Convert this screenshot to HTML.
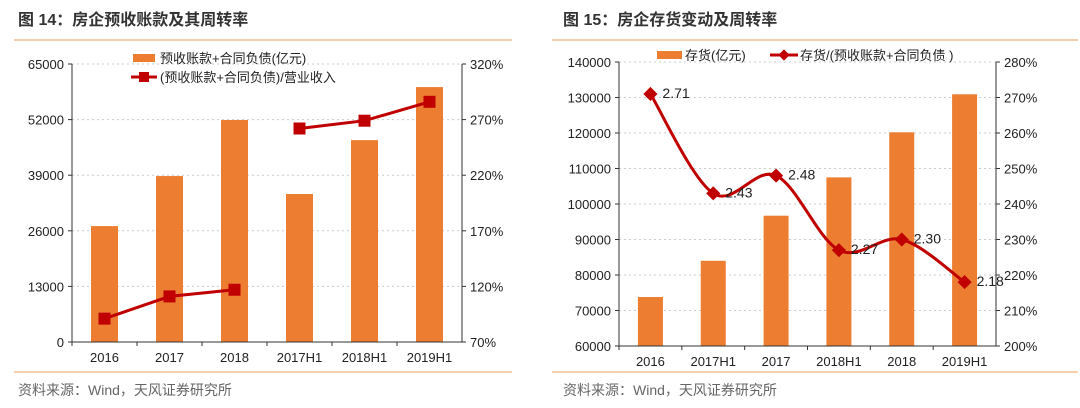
<!DOCTYPE html>
<html><head><meta charset="utf-8"><style>
body{margin:0;width:1080px;height:403px;background:#fff;overflow:hidden;font-family:"Liberation Sans","Noto Sans CJK SC",sans-serif}
svg text{font-family:"Liberation Sans","Noto Sans CJK SC",sans-serif}
</style></head><body>
<svg width="1080" height="403">
<g id="L"></g>
<g id="R"></g>
</svg>
<script>
const catsL=["2016","2017","2018","2017H1","2018H1","2019H1"];
const barsL=[27100,38800,51900,34600,47200,59600];
const lineL=[91,111,117,262,269,286];
const ticksL=[0,13000,26000,39000,52000,65000];
const ticksLR=[70,120,170,220,270,320];
const catsR=["2016","2017H1","2017","2018H1","2018","2019H1"];
const barsR=[73800,84000,96700,107500,120200,130900];
const lineR=[271,243,248,227,230,218];
const labelsR=["2.71","2.43","2.48","2.27","2.30","2.18"];
const ticksR=[60000,70000,80000,90000,100000,110000,120000,130000,140000];
const ticksRR=[200,210,220,230,240,250,260,270,280];
const NS="http://www.w3.org/2000/svg";
function mk(p,t,a,txt){const e=document.createElementNS(NS,t);for(const k in a)e.setAttribute(k,a[k]);if(txt!=null)e.textContent=txt;p.appendChild(e);return e;}
function chart(g,o){
 const {x0,x1,yT,yB,cats,bars,line,tl,tr,bw}=o;
 const lmin=tl[0],lmax=tl[tl.length-1],rmin=tr[0],rmax=tr[tr.length-1];
 const yL=v=>yB-(v-lmin)/(lmax-lmin)*(yB-yT);
 const yR=v=>yB-(v-rmin)/(rmax-rmin)*(yB-yT);
 const band=(x1-x0)/cats.length;const xc=i=>x0+band*(i+.5);
 let t=mk(g,'text',{x:o.tx,y:25,'font-size':16,'font-weight':'bold',fill:'#333'},o.title);
 
 mk(g,'line',{x1:o.lx0,x2:o.lx1,y1:40,y2:40,stroke:'#f0b080','stroke-width':1.2});
 mk(g,'line',{x1:o.lx0,x2:o.lx1,y1:372,y2:372,stroke:'#f0b080','stroke-width':1.2});
 t=mk(g,'text',{x:o.tx,y:395,'font-size':14,fill:'#666'},'资料来源：Wind，天风证券研究所');
 
 tl.forEach((v,i)=>{const y=yL(v);
  if(i>0){const gl=mk(g,'line',{x1:x0,x2:x1,y1:y,y2:y,stroke:'#ccc','stroke-dasharray':'2,3'});}
  mk(g,'line',{x1:x0-4,x2:x0,y1:y,y2:y,stroke:'#333'});
  const e=mk(g,'text',{x:x0-8,y:y+5,'text-anchor':'end','font-size':13,fill:'#222'},String(v));
  });
 tr.forEach(v=>{const y=yR(v);mk(g,'line',{x1:x1,x2:x1+4,y1:y,y2:y,stroke:'#333'});
  const e=mk(g,'text',{x:x1+8,y:y+5,'font-size':13,fill:'#222'},v+'%');
  });
 bars.forEach((v,i)=>{const y=yL(v);const r=mk(g,'rect',{x:xc(i)-bw/2,y:y,width:bw,height:yB-y,fill:'#ed7d31'});
  });
 mk(g,'line',{x1:x0,x2:x0,y1:yT,y2:yB,stroke:'#333'});
 mk(g,'line',{x1:x1,x2:x1,y1:yT,y2:yB,stroke:'#333'});
 mk(g,'line',{x1:x0,x2:x1,y1:yB,y2:yB,stroke:'#333'});
 cats.forEach((c,i)=>{mk(g,'line',{x1:x0+band*i,x2:x0+band*i,y1:yB,y2:yB+4,stroke:'#333'});
  const e=mk(g,'text',{x:xc(i),y:yB+20,'text-anchor':'middle','font-size':13,fill:'#222'},c);
  });
 const pts=line.map((v,i)=>[xc(i),yR(v)]);
 return {pts,xc,yR};
}
const L=document.getElementById('L'),R=document.getElementById('R');
const a=chart(L,{x0:72,x1:462,yT:64,yB:342,cats:catsL,bars:barsL,line:lineL,tl:ticksL,tr:ticksLR,bw:27,title:'图 14：房企预收账款及其周转率',tx:18,lx0:14,lx1:512});
[[0,3],[3,6]].forEach(([s,e])=>{const p=a.pts.slice(s,e);
 const pl=mk(L,'polyline',{points:p.map(q=>q.join(',')).join(' '),fill:'none',stroke:'#c00000','stroke-width':3});
 });
a.pts.forEach(p=>{const r=mk(L,'rect',{x:p[0]-6,y:p[1]-6,width:12,height:12,fill:'#c00000'});
 });
mk(L,'rect',{x:133,y:54,width:22,height:8,fill:'#ed7d31'});
let e=mk(L,'text',{x:160,y:63,'font-size':13,fill:'#222'},'预收账款+合同负债(亿元)');
mk(L,'line',{x1:131,x2:157,y1:77,y2:77,stroke:'#c00000','stroke-width':3});
mk(L,'rect',{x:139,y:72,width:10,height:10,fill:'#c00000'});
e=mk(L,'text',{x:160,y:82,'font-size':13,fill:'#222'},'(预收账款+合同负债)/营业收入');

const b=chart(R,{x0:619,x1:996,yT:62,yB:346,cats:catsR,bars:barsR,line:lineR,tl:ticksR,tr:ticksRR,bw:25,title:'图 15：房企存货变动及周转率',tx:563,lx0:552,lx1:1078});
const P=b.pts;let d='M'+P[0].join(',');
for(let i=0;i<P.length-1;i++){const p0=P[Math.max(0,i-1)],p1=P[i],p2=P[i+1],p3=P[Math.min(P.length-1,i+2)];
 const c1=[p1[0]+(p2[0]-p0[0])/6,p1[1]+(p2[1]-p0[1])/6],c2=[p2[0]-(p3[0]-p1[0])/6,p2[1]-(p3[1]-p1[1])/6];
 d+=` C${c1.join(',')} ${c2.join(',')} ${p2.join(',')}`;}
const pth=mk(R,'path',{d:d,fill:'none',stroke:'#c00000','stroke-width':3});

P.forEach((p,i)=>{const m=mk(R,'rect',{x:p[0]-5,y:p[1]-5,width:10,height:10,fill:'#c00000',transform:`rotate(45 ${p[0]} ${p[1]})`});
 
 const t=mk(R,'text',{x:p[0]+12,y:p[1]+4,'font-size':14,fill:'#222'},labelsR[i]);
 });
mk(R,'rect',{x:657,y:51,width:25,height:8,fill:'#ed7d31'});
e=mk(R,'text',{x:685,y:60,'font-size':13,fill:'#222'},'存货(亿元)');
mk(R,'line',{x1:770,x2:798,y1:55,y2:55,stroke:'#c00000','stroke-width':3});
mk(R,'rect',{x:780,y:51,width:8,height:8,fill:'#c00000',transform:'rotate(45 784 55)'});
e=mk(R,'text',{x:800,y:60,'font-size':13,fill:'#222'},'存货/(预收账款+合同负债 )');
</script>
</body></html>
